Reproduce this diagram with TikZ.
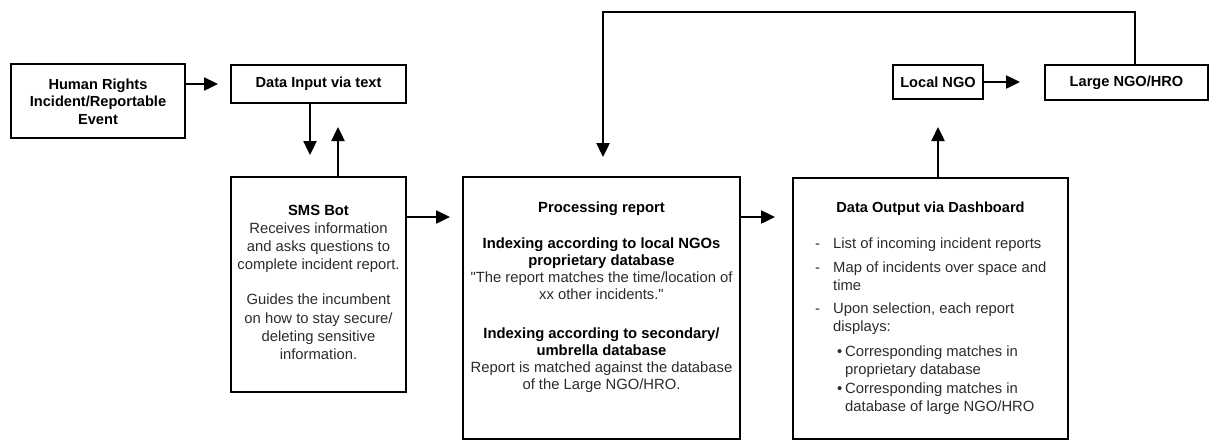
\documentclass[tikz,border=0pt]{standalone}
\usepackage{fontspec}
\setmainfont{Liberation Sans}
% same face without the TeX input mapping, for straight double quotes
\newfontfamily\straightq{Liberation Sans}[Ligatures=TeXOff]
\newcommand{\sq}{{\straightq\char34}}
\usetikzlibrary{arrows.meta}
\definecolor{body}{HTML}{2B2B2B}

\begin{document}
\begin{tikzpicture}[x=1pt,y=-1pt,
  box/.style={draw=black, line width=2.8pt, inner sep=0pt, outer sep=0pt,
    anchor=north west, font=\fontsize{14.6}{17.5}\selectfont\bfseries},
  txt/.style={inner sep=0pt, align=center, text=body},
  arr/.style={line width=2.4pt, line join=miter, -{Triangle[length=14pt,width=13pt]}}
]
\useasboundingbox (0,0) rectangle (1222,440);

% boxes
\node[box, minimum width=174pt, minimum height=74pt] (hr) at (11,64) {};
\node[box, minimum width=175pt, minimum height=38pt] (din) at (231,65) {Data Input via text};
\node[box, minimum width=175pt, minimum height=215pt] (sms) at (231,177) {};
\node[box, minimum width=277pt, minimum height=262pt] (proc) at (463,177) {};
\node[box, minimum width=275pt, minimum height=261pt] (out) at (793,178) {};
\node[box, minimum width=90pt, minimum height=34pt] (lngo) at (893,65) {Local NGO};
\node[box, minimum width=163pt, minimum height=35pt] (large) at (1045,65) {Large NGO/HRO};

% box texts
\node[txt, anchor=north, text=black, font=\fontsize{14.6}{17.5}\selectfont\bfseries] (hrt) at (98,78.5)
  {Human Rights\\Incident/Reportable\\Event};

\node[txt, anchor=north, font=\fontsize{14.8}{18.3}\selectfont] (smst) at (318.5,204.5)
  {\textcolor{black}{\bfseries SMS Bot}\\Receives information\\and asks questions to\\complete incident report.\\[16.7pt]
   Guides the incumbent\\on how to stay secure/\\deleting sensitive\\information.};

\node[txt, anchor=north, font=\fontsize{14.8}{17}\selectfont] (proct) at (601.5,201.5)
  {\textcolor{black}{\bfseries Processing report}\\[19pt]
   \textcolor{black}{\bfseries Indexing according to local NGOs}\\
   \textcolor{black}{\bfseries proprietary database}\\
   \sq The report matches the time/location of\\xx other incidents.\sq\\[22pt]
   \textcolor{black}{\bfseries Indexing according to secondary/}\\
   \textcolor{black}{\bfseries umbrella database}\\
   Report is matched against the database\\of the Large NGO/HRO.};

\node[txt, anchor=north, text=black, font=\fontsize{14.6}{17}\selectfont\bfseries] (outt) at (930.5,201.5)
  {Data Output via Dashboard};

\node[txt, anchor=north west, align=left, font=\fontsize{14.8}{18}\selectfont] (outl) at (815,237.5)
  {\makebox[18pt][l]{-}List of incoming incident reports\\[6pt]
   \makebox[18pt][l]{-}Map of incidents over space and\\
   \hspace*{18pt}time\\[5pt]
   \makebox[18pt][l]{-}Upon selection, each report\\
   \hspace*{18pt}displays:\\[7pt]
   \hspace*{22pt}\makebox[8pt][l]{\textbullet}Corresponding matches in\\
   \hspace*{30pt}proprietary database\\[1pt]
   \hspace*{22pt}\makebox[8pt][l]{\textbullet}Corresponding matches in\\
   \hspace*{30pt}database of large NGO/HRO};

% connectors
\coordinate (fbtop) at (603,12);
\draw[arr] (hr.east |- din.west) -- ([xshift=-13pt]din.west);
\draw[arr] ([xshift=-8.5pt]din.south) -- ([xshift=-8.5pt,yshift=22pt]sms.north);
\draw[arr] ([xshift=19.5pt]sms.north) -- ([xshift=19.5pt,yshift=-24pt]din.south);
\draw[arr] ([yshift=-40pt]sms.north east) -- ([xshift=-13pt,yshift=-40pt]proc.north west);
\draw[arr] ([yshift=-40pt]proc.north east) -- ([xshift=-18pt,yshift=-39pt]out.north west);
\draw[arr] (out.north -| lngo.south) -- ([yshift=-28pt]lngo.south);
\draw[arr] (lngo.east) -- ([xshift=-25pt]large.west |- lngo.east);
\draw[arr] ([xshift=8.5pt]large.north) |- (fbtop) -- ([xshift=1.5pt,yshift=20pt]proc.north);
\end{tikzpicture}
\end{document}
